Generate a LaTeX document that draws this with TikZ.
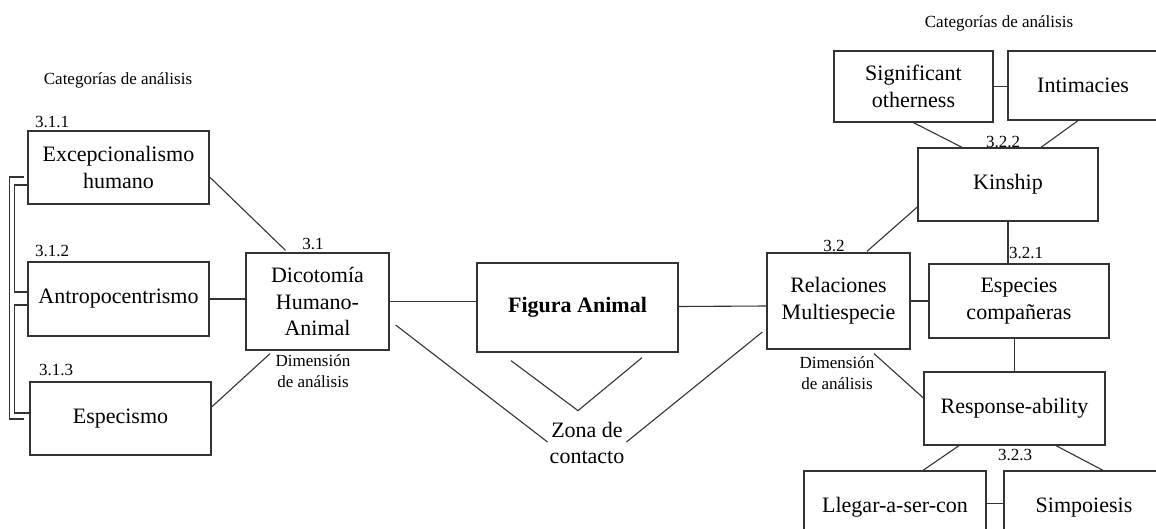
\documentclass[tikz,border=0pt]{standalone}
\usepackage{fontspec}
\setmainfont{Liberation Serif}
\usetikzlibrary{calc}
\newcommand\boxfont{\fontsize{22}{26.6}\selectfont}
\newcommand\lblfont{\fontsize{17}{20.6}\selectfont}
\tikzset{
  box/.style={draw=black!80, line width=1.3pt, inner sep=0pt, align=center, font=\boxfont},
  lbl/.style={inner sep=0pt, align=center, font=\lblfont},
  txt/.style={inner sep=0pt, align=center, font=\boxfont},
  conn/.style={draw=black!80, line width=1.1pt}
}
\begin{document}
\begin{tikzpicture}[x=1pt,y=-1pt]
\clip (0,0) rectangle (1156,529);
\fill[white] (0,0) rectangle (1156,529);
% left boxes
\node[box, minimum width=181pt, minimum height=73pt] (exc) at (118.5,167.5) {Excepcionalismo\\humano};
\node[box, minimum width=181pt, minimum height=74pt] (ant) at (118.5,299) {Antropocentrismo};
\node[box, minimum width=181pt, minimum height=73pt] (esp) at (120.5,418.5) {Especismo};
\node[box, minimum width=143pt, minimum height=97pt] (dic) at (317.5,301.5) {Dicotomía\\Humano-\\Animal};
\node[box, minimum width=201pt, minimum height=89pt] (fig) at (577.5,307.5) {\bfseries Figura Animal};
\node[txt] (zona) at (587,443) {Zona de\\contacto};
% right boxes
\node[box, minimum width=143pt, minimum height=96pt] (rel) at (838.5,301) {Relaciones\\Multiespecie};
\node[box, minimum width=180pt, minimum height=74pt] (espc) at (1019,301) {Especies\\compañeras};
\node[box, minimum width=181pt, minimum height=73pt] (resp) at (1014.5,408.5) {Response-ability};
\node[box, minimum width=182pt, minimum height=73pt] (lleg) at (895,507.5) {Llegar-a-ser-con};
\node[box, minimum width=160pt, minimum height=73pt] (simp) at (1084,507.5) {Simpoiesis};
\node[box, minimum width=159pt, minimum height=71pt] (sig) at (913.5,86.5) {Significant\\otherness};
\node[box, minimum width=150pt, minimum height=69pt] (inti) at (1083,85.5) {Intimacies};
\node[box, minimum width=180pt, minimum height=73pt] (kin) at (1008,184.5) {Kinship};
% labels
\node[lbl] (cat1) at (118,80) {Categorías de análisis};
\node[lbl] (cat2) at (999,23) {Categorías de análisis};
\node[lbl] (l311) at (52,122) {3.1.1};
\node[lbl] (l312) at (52,251) {3.1.2};
\node[lbl] (l313) at (56,370) {3.1.3};
\node[lbl] (l31) at (313,244) {3.1};
\node[lbl] (dim1) at (313,371) {Dimensión\\de análisis};
\node[lbl] (l32) at (834,246) {3.2};
\node[lbl] (l322) at (1003,142) {3.2.2};
\node[lbl] (l321) at (1026,253) {3.2.1};
\node[lbl] (l323) at (1015,455) {3.2.3};
\node[lbl] (dim2) at (837,373) {Dimensión\\de análisis};
% connectors left
\draw[conn] ($(exc.east)+(0,9.5)$) -- ($(dic.north)+(-32,-2)$);
\draw[conn] (ant.east) -- (ant.east -| dic.west);
\draw[conn] ($(esp.east)+(0,-11.5)$) -- ($(dic.south)+(-47.5,3)$);
\draw[conn] (dic.east) -- (dic.east -| fig.west);
\draw[conn] ($(dic.east)+(6,23.5)$) -- ($(zona.west)+(-2,-1)$);
\draw[conn] ($(fig.south)+(-66.5,8)$) -- ($(fig.south)+(0.5,58)$) -- ($(fig.south)+(64.5,5)$);
\draw[conn] ($(zona.east)+(2,-1)$) -- ($(rel.west)+(-4,31)$);
\draw[conn] ($(fig.east)+(0,-1)$) -- ($(rel.west)+(0,5)$);
% brackets
\draw[conn] ($(exc.west)+(-3,9.5)$) -- ++(-15,0) |- ($(esp.west)+(-5,0.5)$);
\draw[conn] ($(exc.west)+(0,17.5)$) -- ++(-13,0) |- ($(ant.west)+(0,-7)$);
\draw[conn] ($(ant.west)+(0,6)$) -- ++(-13,0) |- ($(esp.west)+(0,-5.5)$);
% connectors right
\draw[conn] (rel.east) -- (rel.east -| espc.west);
\draw[conn] ($(rel.south)+(35.5,4)$) -- ($(resp.west)+(0,-10.5)$);
\draw[conn] (resp.north |- espc.south) -- (resp.north);
\draw[conn] (kin.south) -- (kin.south |- espc.north);
\draw[conn] ($(kin.west)+(0,22.5)$) -- ($(rel.north)+(28.5,-1)$);
\draw[conn] (sig.south) -- ($(kin.north)+(-46,0)$);
\draw[conn] ($(inti.south)+(-5,0)$) -- ($(kin.north)+(33,0)$);
\draw[conn] (sig.east) -- (sig.east -| inti.west);
\draw[conn] ($(resp.south)+(-55.5,0)$) -- ($(lleg.north)+(28,0)$);
\draw[conn] ($(resp.south)+(41.5,0)$) -- ($(simp.north)+(19,0)$);
\draw[conn] ($(lleg.east)+(0,-4)$) -- ($(simp.west)+(0,-4)$);
\end{tikzpicture}
\end{document}
